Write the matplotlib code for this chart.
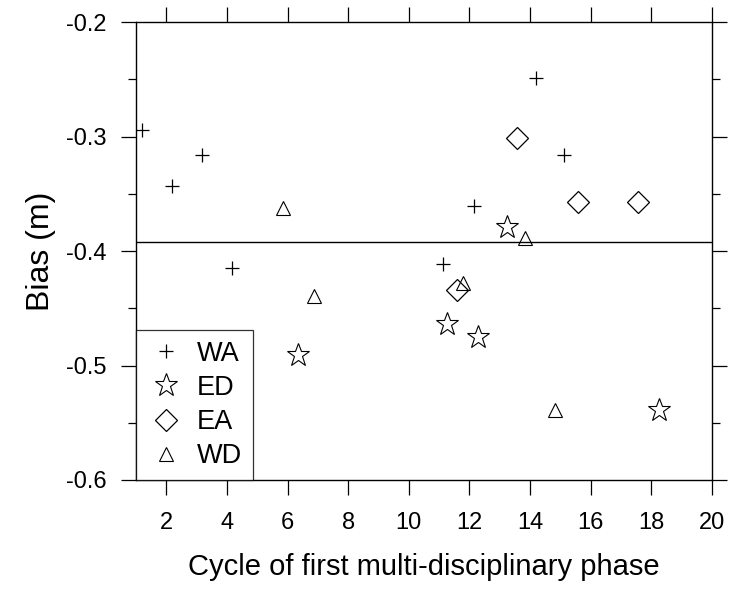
import numpy as np
import matplotlib
matplotlib.use("Agg")
import matplotlib.pyplot as plt
from matplotlib.ticker import MultipleLocator, FuncFormatter

plt.rcParams['font.family'] = ['Liberation Sans', 'DejaVu Sans']

# data
wa_x = [1.21, 2.2, 3.19, 4.18, 11.13, 12.15, 14.18, 15.13]
wa_y = [-0.294, -0.343, -0.316, -0.415, -0.411, -0.361, -0.249, -0.316]

ed_x = [6.33, 11.26, 12.28, 13.25, 18.25]
ed_y = [-0.491, -0.464, -0.475, -0.379, -0.539]

ea_x = [11.6, 13.58, 15.57, 17.55]
ea_y = [-0.434, -0.301, -0.357, -0.357]

wd_x = [5.86, 6.86, 11.8, 13.82, 14.81]
wd_y = [-0.362, -0.439, -0.428, -0.389, -0.539]

mean_bias = -0.392

fig = plt.figure(figsize=(7.3, 5.92), dpi=100)
ax = fig.add_axes([0.1863, 0.1892, 0.789, 0.7736])

ax.plot(wa_x, wa_y, ls='none', marker='+', ms=10, mew=0.9, color='black', label='WA')
ax.plot(ed_x, ed_y, ls='none', marker='*', ms=17, mew=0.8, mfc='white', mec='black', label='ED')
ax.plot(ea_x, ea_y, ls='none', marker='D', ms=11.5, mew=0.9, mfc='none', mec='black', label='EA')
ax.plot(wd_x, wd_y, ls='none', marker='^', ms=10, mew=0.8, mfc='none', mec='black', label='WD')

ax.axhline(mean_bias, color='black', lw=1.0)

ax.set_xlim(1, 20)
ax.set_ylim(-0.6, -0.2)
ax.xaxis.set_major_locator(MultipleLocator(2))
ax.yaxis.set_major_locator(MultipleLocator(0.1))
ax.yaxis.set_minor_locator(MultipleLocator(0.05))
ax.yaxis.set_major_formatter(FuncFormatter(lambda v, p: f"{v:.1f}"))

ax.tick_params(axis='both', which='major', direction='out', top=True, right=True,
               length=11, width=0.9, labelsize=17, pad=10, colors='black')
ax.tick_params(axis='x', which='major', pad=12)
ax.tick_params(axis='y', which='minor', direction='out', right=True, length=5.5, width=0.9)

for s in ax.spines.values():
    s.set_linewidth(1.0)

ax.set_xlabel('Cycle of first multi-disciplinary phase', fontsize=21, labelpad=14)
ax.set_ylabel('Bias (m)', fontsize=23, labelpad=7)

leg = ax.legend(loc='lower left', bbox_to_anchor=(0, 0), fontsize=19.5, frameon=True,
                fancybox=False, edgecolor='black', borderpad=0.4, handletextpad=0.45,
                borderaxespad=0, labelspacing=0.3, handlelength=1.4)
leg.get_frame().set_linewidth(0.9)

fig.savefig('out.png', dpi=100)
